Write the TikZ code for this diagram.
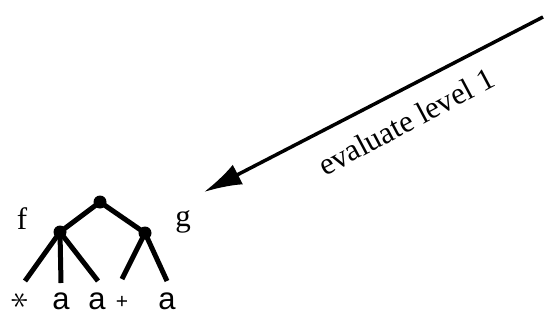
\documentclass[tikz,border=0pt]{standalone}
\usepackage{fontspec}
\usepackage{graphicx}
\setmainfont{Liberation Serif}
\newfontfamily\leaffont{Liberation Sans}
\usetikzlibrary{arrows.meta}
\begin{document}
\begin{tikzpicture}[x=1pt,y=-1pt,
  dot/.style={circle,fill=black,inner sep=0pt,minimum size=13pt},
  edge/.style={line width=5pt},
  leaf/.style={inner sep=0pt,font=\leaffont\fontsize{31}{31}\selectfont},
  lbl/.style={inner sep=0pt,font=\fontsize{31}{31}\selectfont}]
\useasboundingbox (0,0) rectangle (553,324);
\node[dot] (r) at (100,202) {};
\node[dot] (l) at (60,232) {};
\node[dot] (rr) at (145,233) {};
\coordinate (e1) at (25,281);
\coordinate (e2) at (61,283);
\coordinate (e3) at (98,281);
\coordinate (e4) at (122,279);
\coordinate (e5) at (167,281);
\draw[edge] (r.center) -- (l.center);
\draw[edge] (r.center) -- (rr.center);
\draw[edge] (l.center) -- (e1);
\draw[edge] (l.center) -- (e2);
\draw[edge] (l.center) -- (e3);
\draw[edge] (rr.center) -- (e4);
\draw[edge] (rr.center) -- (e5);
\node[lbl] (f) at (22,219) {f};
\node[lbl] (g) at (183,222) {g};
\node[inner sep=0pt,rotate=90] (s) at (20,300) {\scalebox{3.6}{$\ast$}};
\node[leaf] (a1) at (61,301) {a};
\node[leaf] (a2) at (97,301) {a};
\node[inner sep=0pt,font=\leaffont\fontsize{21}{21}\selectfont] (p) at (122,302) {+};
\node[leaf] (a3) at (167,301) {a};
\coordinate (start) at (543,17);
\coordinate (tip) at (204,192);
\draw[line width=3.5pt,-{Latex[length=38pt,width=22pt]}] (start) -- (tip);
\node[lbl,rotate=28,anchor=base] (t) at (411,131) {evaluate level 1};
\end{tikzpicture}
\end{document}
